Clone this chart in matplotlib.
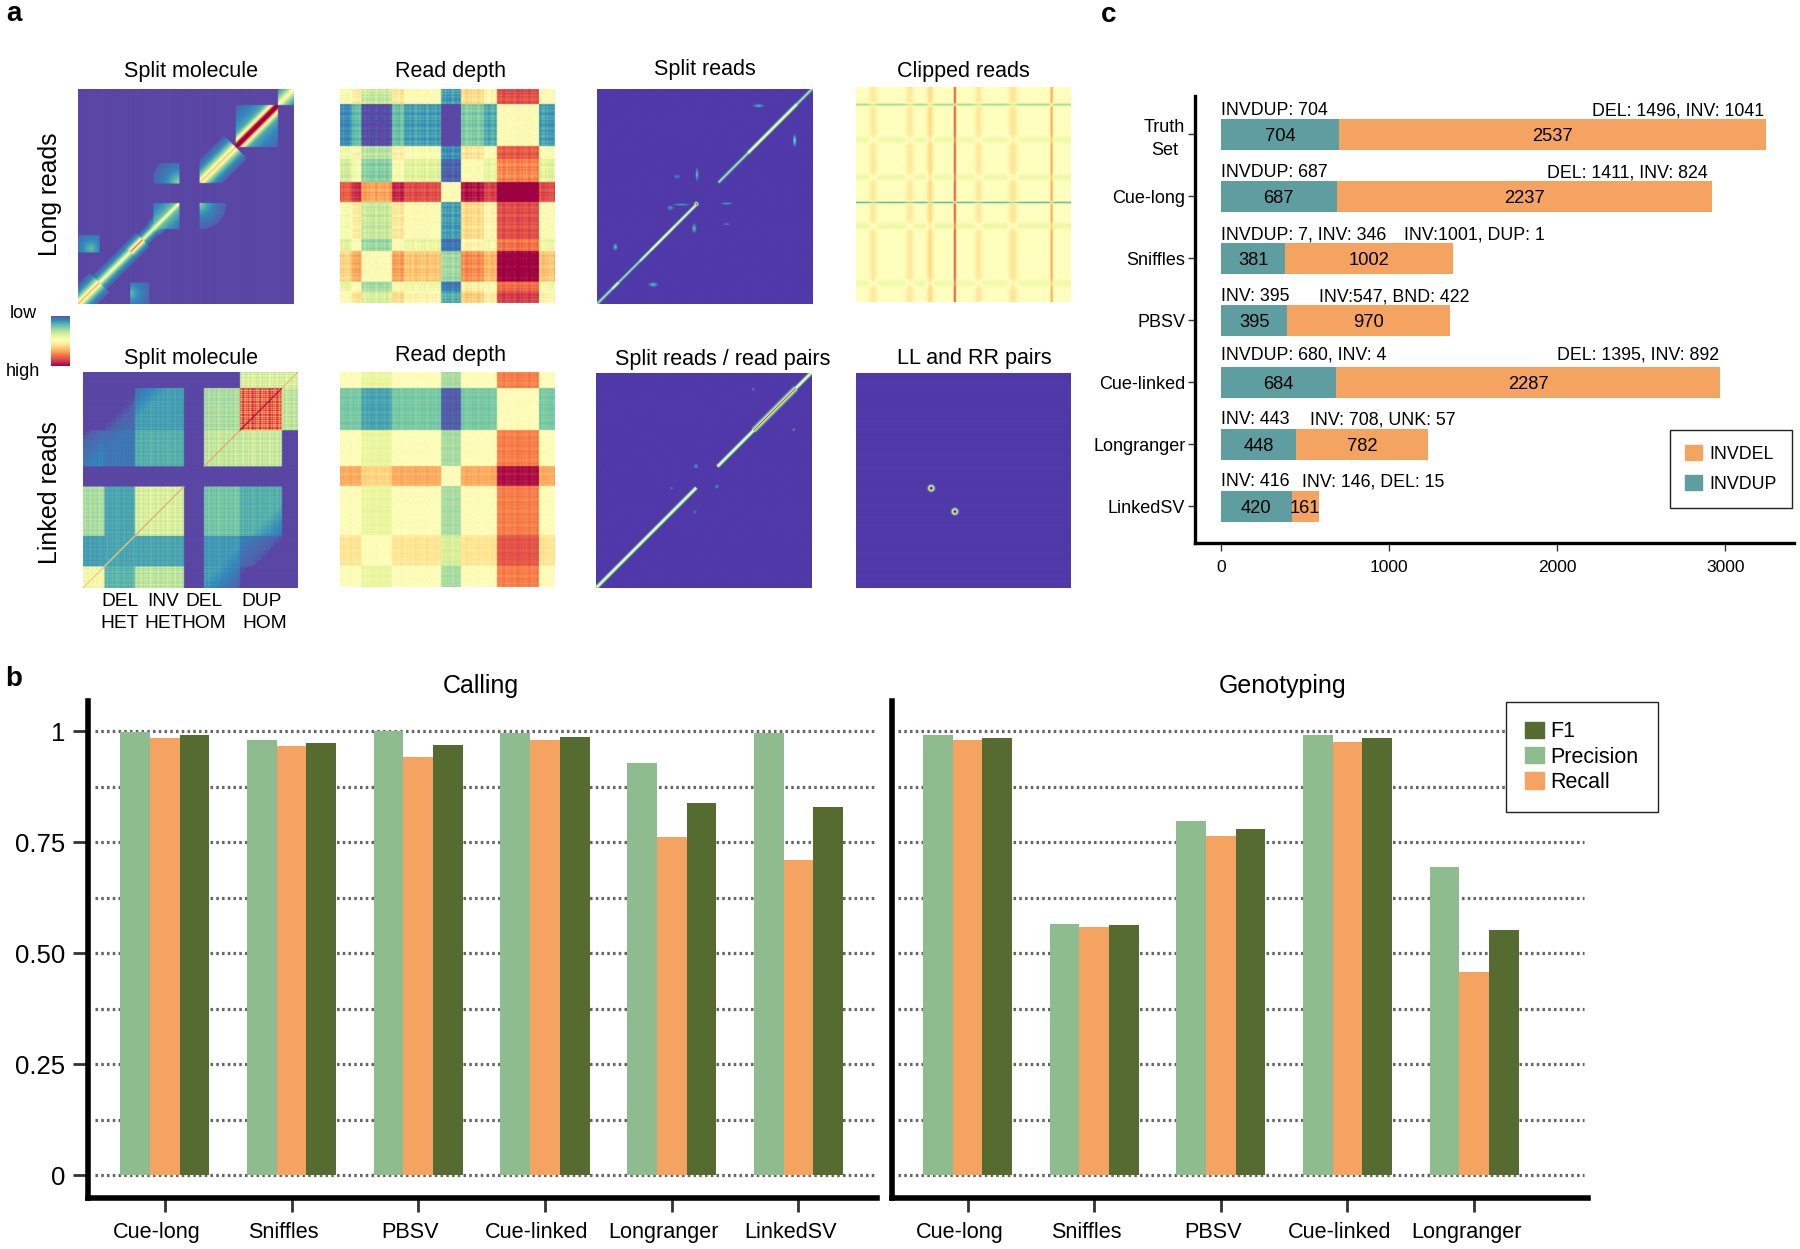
import numpy as np
import matplotlib
matplotlib.use("Agg")
import matplotlib.pyplot as plt
from matplotlib.patches import Patch
from matplotlib.transforms import ScaledTranslation

plt.rcParams['font.family'] = ['Liberation Sans', 'DejaVu Sans']

W, H = 1800, 1249

# ---------- panel c ----------
tools_c = ['Truth\nSet', 'Cue-long', 'Sniffles', 'PBSV', 'Cue-linked', 'Longranger', 'LinkedSV']
invdup = [704, 687, 381, 395, 684, 448, 420]
invdel = [2537, 2237, 1002, 970, 2287, 782, 161]
left_notes = ['INVDUP: 704', 'INVDUP: 687', 'INVDUP: 7, INV: 346', 'INV: 395',
              'INVDUP: 680, INV: 4', 'INV: 443', 'INV: 416']
right_notes = ['DEL: 1496, INV: 1041', 'DEL: 1411, INV: 824', 'INV:1001, DUP: 1',
               'INV:547, BND: 422', 'DEL: 1395, INV: 892', 'INV: 708, UNK: 57',
               'INV: 146, DEL: 15']
right_note_x = [2722, 2419, 1509, 1032, 2484, 963, 907]
note_rise = [0.38, 0.38, 0.38, 0.38, 0.45, 0.40, 0.40]

# ---------- panel b ----------
tools_call = ['Cue-long', 'Sniffles', 'PBSV', 'Cue-linked', 'Longranger', 'LinkedSV']
call_prec = [0.998, 0.981, 1.000, 0.997, 0.929, 0.997]
call_rec = [0.986, 0.967, 0.942, 0.981, 0.763, 0.711]
call_f1 = [0.992, 0.974, 0.970, 0.988, 0.838, 0.829]
tools_geno = ['Cue-long', 'Sniffles', 'PBSV', 'Cue-linked', 'Longranger']
geno_prec = [0.992, 0.566, 0.797, 0.992, 0.695]
geno_rec = [0.981, 0.559, 0.764, 0.977, 0.457]
geno_f1 = [0.986, 0.563, 0.780, 0.985, 0.552]
y_ticks = [0, 0.25, 0.5, 0.75, 1]
y_tick_labels = ['0', '0.25', '0.50', '0.75', '1']
grid_levels = [0, 0.125, 0.25, 0.375, 0.5, 0.625, 0.75, 0.875, 1]

# ---------- panel a : heatmap descriptions (fractions of the image side) ----------
SV_EDGES = [0, 0.1, 0.243, 0.47, 0.562, 0.73, 0.925, 1]
GAP = (0.47, 0.562)
# read depth level of each region, long and linked reads
RD_LONG = [0.0, -0.15, 0.0, -0.36, 0.10, 0.36, 0.0]
RD_LINK = [0.0, -0.08, 0.0, -0.20, 0.0, 0.27, 0.0]
# narrower sub-bands of the read depth profile: start, end, offset
RD_SUB_LONG = [(0.0, 0.055, -0.03), (0.055, 0.10, 0.06), (0.243, 0.30, 0.07), (0.67, 0.73, -0.08)]
RD_SUB_LINK = []
STRIPES = [0.018, -0.012, 0.025, -0.02, 0.006, -0.028, 0.016, 0.03, -0.008, -0.022, 0.012, -0.016, 0.022, 0.002, -0.026, 0.01, 0.028]
MOTTLE = [0.02, -0.03, 0.012, 0.028, -0.018, 0.006, -0.026, 0.03, -0.01, 0.016, -0.022, 0.024, -0.006]

# split molecule, long reads: continuous band, start, end, peak, decay width
MOL_LONG_BAND = [(0, .1, .72, .03), (.1, .243, .52, .024), (.243, .30, .85, .02), (.30, .35, .5, .018),
                 (.35, .47, .52, .022), (.562, .73, .68, .036)]
# square blocks on the diagonal: start, end, peak, decay width
MOL_LONG_SQUARES = [(.73, .925, 1.5, .028), (.73, .925, .28, .11), (.35, .47, .26, .09), (.925, 1, .5, .05)]
# x0, x1, y0, y1, peak, corner x, corner y, scale
MOL_LONG_BLOCKS = [(.35, .47, .561, .656, .30, .47, .561, .06), (.562, .70, .35, .47, .28, .562, .47, .06),
                   (0, .1, .24, .32, .20, .06, .26, .06), (.243, .33, 0, .1, .20, .243, .05, .06)]
# split molecule, linked reads: one row per region, from the bottom up
MOL_LINK_LEVELS = [[.46, .18, .33, 0, .14, .06, 0],
                   [.14, .15, .15, 0, .13, .08, 0],
                   [.30, .15, .38, 0, .22, .17, 0],
                   [0, 0, 0, 0, 0, 0, 0],
                   [.09, .07, .17, 0, .34, .35, 0],
                   [0, .05, .14, 0, .30, .80, .33],
                   [0, 0, 0, 0, 0, .38, .38]]
MOL_LINK_DIAG = [(0, .243, .80, .004), (.243, .47, .90, .004), (.562, .73, .90, .004), (.73, .925, 1.2, .006), (.925, 1, .85, .004)]
# split reads: start, end, peak, width
SR_LONG_DIAG = [(0, .07, .34, .0075), (.07, .1, .5, .008), (.1, .2, .32, .007), (.2, .25, .46, .0075), (.25, .36, .54, .008),
                (.36, .463, .48, .008), (.562, .70, .34, .0075), (.70, .73, .54, .009), (.73, .88, .56, .009),
                (.88, .925, .54, .009), (.925, 1, .36, .0075)]
# x, y, peak, x size, y size
SR_LONG_SPOTS = [(.46, .463, 1.05, .007, .007), (.463, .60, .22, .005, .022), (.37, .59, .10, .012, .008),
                 (.39, .46, .16, .03, .004), (.34, .445, .14, .012, .008), (.45, .35, .2, .008, .016),
                 (.60, .465, .16, .022, .004), (.60, .37, .10, .014, .005), (.085, .264, .2, .008, .012),
                 (.26, .09, .2, .016, .008), (.748, .918, .18, .02, .006), (.915, .757, .27, .006, .02)]
SR_LINK_DIAG = [(0, .464, .55, .0095), (.562, .73, .53, .0095), (.73, .925, .52, .014), (.73, .925, 1.05, .0045), (.925, 1, .55, .0095)]
SR_LINK_SPOTS = [(.463, .564, .14, .008, .008), (.35, .462, .11, .006, .006), (.56, .47, .14, .007, .007),
                 (.458, .352, .11, .006, .006), (.728, .92, .1, .006, .006), (.916, .733, .12, .006, .006),
                 (0.003, .003, .8, .008, .008)]
LL_SPOTS = [(.35, .462, 1.2, .011, .011), (.46, .354, 1.2, .011, .011)]
# clipped reads: position, width, strength
CLIP_COLS = [(.46, .005, .40), (.91, .006, .22), (.08, .018, .07), (.25, .018, .07), (.345, .014, .11),
             (.57, .018, .07), (.73, .02, .08)]
CLIP_ROWS = [(.082, .006, .22), (.245, .016, .06), (.42, .016, .06), (.537, .004, .36), (.647, .016, .07), (.913, .016, .06)]

# ---------- layout helpers ----------
fig = plt.figure(figsize=(W / 100, H / 100), dpi=100, facecolor='white')


def px_axes(x0, y0, x1, y1, **kw):
    return fig.add_axes([x0 / W, 1 - y1 / H, (x1 - x0) / W, (y1 - y0) / H], **kw)


def px_text(x, y, s, **kw):
    kw.setdefault('ha', 'center')
    kw.setdefault('va', 'center')
    return fig.text(x / W, 1 - y / H, s, **kw)


N = 430
g = (np.arange(N) + 0.5) / N
X, Y = np.meshgrid(g, g)
D = np.abs(X - Y)
T = (X + Y) / 2


def region(v):
    return np.clip(np.searchsorted(SV_EDGES, v, side='right') - 1, 0, len(SV_EDGES) - 2)


def read_depth(levels, subs, stripe):
    p = np.array(levels)[region(g)]
    for s, e, o in subs:
        p[(g >= s) & (g < e)] += o
    tile = np.array(STRIPES)[(np.arange(N) // 3) % len(STRIPES)] * stripe
    p = p + tile
    return 0.5 + p[None, :] - p[:, None]


def band_map(segs, square=False, power=1, v=None):
    v = np.full((N, N), -1.0) if v is None else v
    for s, e, amp, w in segs:
        if square:
            m = (X >= s) & (X < e) & (Y >= s) & (Y < e)
        else:
            m = (T >= s) & (T < e)
        z = amp * np.exp(-(D / w) ** power)
        v[m] = np.maximum(v[m], z[m])
    return v


def add_spots(v, spots):
    for cx, cy, amp, sx, sy in spots:
        z = amp * np.exp(-((X - cx) / sx) ** 2 - ((Y - cy) / sy) ** 2)
        v = np.maximum(v, z)
    return v


def mol_long():
    v = band_map(MOL_LONG_BAND)
    cross = ((X >= GAP[0]) & (X < GAP[1])) | ((Y >= GAP[0]) & (Y < GAP[1]))
    v[cross] = -1
    v = band_map(MOL_LONG_SQUARES, square=True, v=v)
    for x0, x1, y0, y1, a, cx, cy, sc in MOL_LONG_BLOCKS:
        m = (X >= x0) & (X < x1) & (Y >= y0) & (Y < y1)
        z = a * np.exp(-np.hypot(X - cx, Y - cy) / sc)
        v[m] = np.maximum(v[m], z[m])
    v[v < 0.035] = -1
    return v


def mol_link():
    v = np.array(MOL_LINK_LEVELS)[region(Y), region(X)]
    fade = np.clip((0.78 - D) / 0.25, 0, 1)
    v = v * fade
    s, m = np.array(STRIPES), np.array(MOTTLE)
    idx = np.arange(N) // 2
    tex = s[idx % len(s)][None, :] + m[idx % len(m)][:, None]
    v = v * (1 + 4 * tex)
    d = band_map(MOL_LINK_DIAG, power=2)
    v = np.maximum(v, d)
    v[v < 0.03] = -1
    return v


def sr_map(segs, spots):
    v = band_map(segs, power=2)
    v = add_spots(v, spots)
    v[v < 0.03] = -1
    return v


def clip_map():
    c = np.zeros(N)
    r = np.zeros(N)
    for pos, hw, a in CLIP_COLS:
        c = np.maximum(c, a * np.exp(-((g - pos) / hw) ** 2))
    for pos, hw, a in CLIP_ROWS:
        r = np.maximum(r, a * np.exp(-((g - pos) / hw) ** 2))
    return 0.5 + c[None, :] - r[::-1][:, None]


def ll_map():
    v = add_spots(np.full((N, N), -1.0), LL_SPOTS)
    v[v < 0.03] = -1
    return v


def heat(box, data, title, title_xy, under='#5a46a4'):
    ax = px_axes(*box)
    cmap = plt.get_cmap('Spectral_r').copy()
    cmap.set_under(under)
    ax.imshow(data, origin='lower', cmap=cmap, vmin=0, vmax=1, aspect='auto',
              extent=[0, 1, 0, 1], interpolation='bilinear')
    ax.set_xticks([])
    ax.set_yticks([])
    for s in ax.spines.values():
        s.set_visible(False)
    px_text(title_xy[0], title_xy[1], title, fontsize=15.5, color='black')
    return ax


VIOLET = '#5039a8'
heat((78, 89, 293, 304), mol_long(), 'Split molecule', (191, 71))
heat((340, 88.5, 555, 303), read_depth(RD_LONG, RD_SUB_LONG, 1.0), 'Read depth', (451, 71))
heat((597, 88.5, 813, 304), sr_map(SR_LONG_DIAG, SR_LONG_SPOTS), 'Split reads', (705, 70), VIOLET)
heat((856, 87, 1071, 302), clip_map(), 'Clipped reads', (963, 71))
heat((83, 372, 298, 588), mol_link(), 'Split molecule', (191, 358))
heat((340, 372, 555, 587), read_depth(RD_LINK, RD_SUB_LINK, 0.55), 'Read depth', (451, 356))
heat((596, 372.5, 812, 588), sr_map(SR_LINK_DIAG, SR_LINK_SPOTS), 'Split reads / read pairs', (723, 359.5), VIOLET)
heat((856, 372.5, 1071, 588), ll_map(), 'LL and RR pairs', (974, 358), VIOLET)

# colour bar
cax = px_axes(51, 315.5, 69.5, 366)
cax.imshow(np.linspace(0, 1, 256)[:, None], cmap='Spectral_r', aspect='auto', vmin=0, vmax=1)
cax.set_axis_off()
px_text(23, 314, 'low', fontsize=13)
px_text(23, 371, 'high', fontsize=13)

px_text(50, 194, 'Long reads', fontsize=17.8, rotation=90)
px_text(50, 493, 'Linked reads', fontsize=18, rotation=90)
for cx, a, b in [(120, 'DEL', 'HET'), (163.5, 'INV', 'HET'), (203.5, 'DEL', 'HOM')]:
    px_text(cx, 602, a, fontsize=13.8)
    px_text(cx, 624, b, fontsize=13.8)
px_text(262, 602, 'DUP', fontsize=13.8)
px_text(264.5, 624, 'HOM', fontsize=13.8)

px_text(14, 14, 'a', fontsize=20, fontweight='bold')
px_text(14, 679, 'b', fontsize=20, fontweight='bold')
px_text(1109, 15, 'c', fontsize=20, fontweight='bold')

TEAL, ORANGE, SAGE, OLIVE = 'cadetblue', 'sandybrown', 'darkseagreen', 'darkolivegreen'

# ---------- panel c ----------
axc = px_axes(1195, 96, 1794, 543)
ypos = np.arange(len(tools_c))
b1 = axc.barh(ypos, invdup, height=0.5, color=TEAL)
b2 = axc.barh(ypos, invdel, left=invdup, height=0.5, color=ORANGE)
for lab in axc.bar_label(b1, label_type='center', fontsize=13.2) + axc.bar_label(b2, label_type='center', fontsize=13.2):
    lab.xyann = (0, -1.4)
for i in ypos:
    axc.text(-3, i - note_rise[i], left_notes[i], ha='left', va='center', fontsize=12.8)
    axc.text(right_note_x[i], i - note_rise[i], right_notes[i], ha='center', va='center', fontsize=12.8)
axc.set_xlim(-155, 3409)
axc.set_ylim(6.59, -0.62)
axc.set_yticks(ypos, tools_c, multialignment='center', fontsize=13)
axc.get_yticklabels()[0].set_linespacing(1.45)
axc.set_xticks([0, 1000, 2000, 3000])
axc.tick_params(axis='x', length=6, width=1, labelsize=12.5, color='#333333', pad=6)
axc.tick_params(axis='y', length=5, width=1, color='#333333', pad=2)
for s in ['top', 'right']:
    axc.spines[s].set_visible(False)
for s in ['left', 'bottom']:
    axc.spines[s].set_linewidth(2.4)
leg = axc.legend([Patch(color=ORANGE), Patch(color=TEAL)], ['INVDEL', 'INVDUP'], loc='lower right',
                 bbox_to_anchor=(1792 / W, 1 - 507.7 / H), bbox_transform=fig.transFigure,
                 fontsize=12.8, frameon=True, fancybox=False, edgecolor='#222222', framealpha=1,
                 handlelength=0.93, handleheight=0.9, labelspacing=0.7, borderpad=0.85, borderaxespad=0, handletextpad=0.45)
leg.get_frame().set_linewidth(1.0)


# ---------- panel b ----------
def metric_panel(box, tools, prec, rec, f1, xlim, grid_end, show_y):
    ax = px_axes(*box)
    x = np.arange(len(tools))
    w = 0.2345
    ax.hlines(grid_levels, -0.55, grid_end, color='#666666', lw=2.3, linestyles=[(0, (0.8, 1.0))], zorder=1)
    ax.bar(x - w, prec, w, color=SAGE, zorder=2)
    ax.bar(x, rec, w, color=ORANGE, zorder=2)
    ax.bar(x + w, f1, w, color=OLIVE, zorder=2)
    ax.set_xlim(*xlim)
    ax.set_ylim(-0.0518, 1.0686)
    ax.set_xticks(x, tools, fontsize=15.6)
    ax.tick_params(axis='x', length=10, width=2, color='#333333', pad=7.5)
    for t in ax.get_xticklabels():
        t.set_transform(t.get_transform() + ScaledTranslation(-8 / 100, 0, fig.dpi_scale_trans))
    if show_y:
        ax.set_yticks(y_ticks, y_tick_labels, fontsize=18.5)
        ax.tick_params(axis='y', length=11, width=2, color='#333333', pad=5.5)
    else:
        ax.set_yticks([])
    for s in ['top', 'right']:
        ax.spines[s].set_visible(False)
    for s in ['left', 'bottom']:
        ax.spines[s].set_linewidth(4)
    return ax


ax1 = metric_panel((88, 701, 877, 1198), tools_call, call_prec, call_rec, call_f1, (-0.606, 5.62), 5.6, True)
ax2 = metric_panel((892, 701, 1588, 1198), tools_geno, geno_prec, geno_rec, geno_f1, (-0.5975, 4.90), 4.87, False)
px_text(481, 686, 'Calling', fontsize=18)
px_text(1283, 686, 'Genotyping', fontsize=18)
leg2 = ax2.legend([Patch(color=OLIVE), Patch(color=SAGE), Patch(color=ORANGE)], ['F1', 'Precision', 'Recall'],
                  loc='upper left', bbox_to_anchor=(1506 / W, 1 - 702 / H), bbox_transform=fig.transFigure,
                  fontsize=15.5, frameon=True, fancybox=False, edgecolor='#222222', framealpha=1,
                  handlelength=0.85, handleheight=0.8, labelspacing=0.2, borderpad=0.9, borderaxespad=0, handletextpad=0.3)
leg2.get_frame().set_linewidth(1.0)
leg2.set_zorder(5)

fig.savefig('out.png', dpi=100)
